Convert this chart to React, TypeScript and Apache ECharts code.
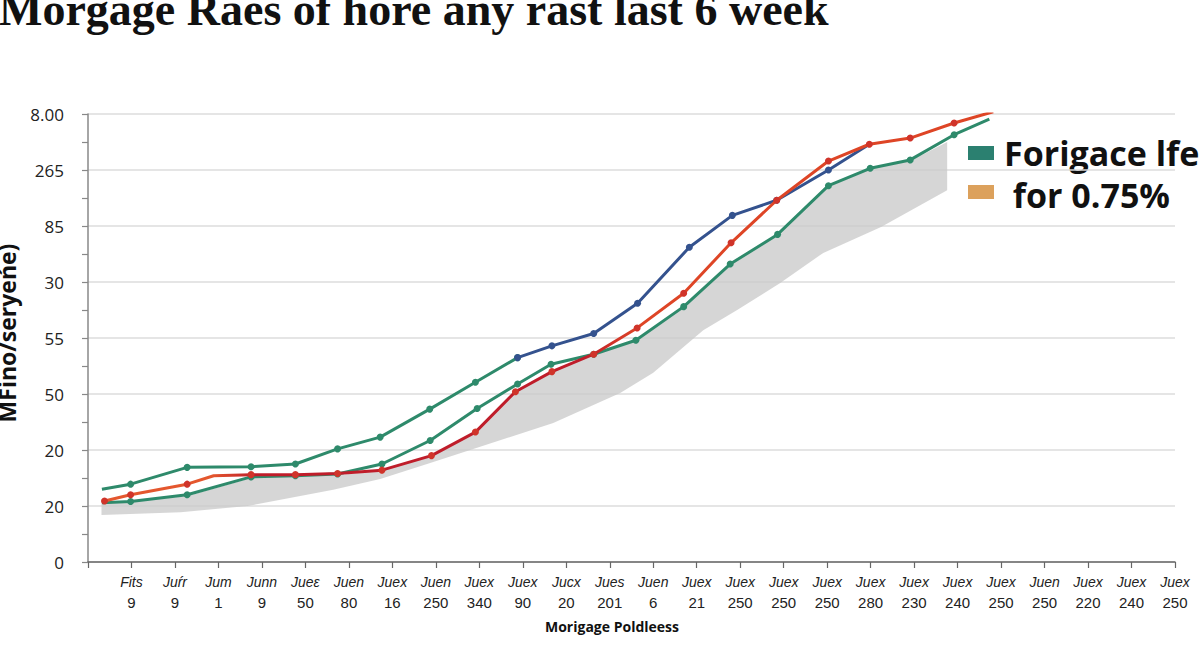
import React, { useEffect, useRef } from 'react';
import * as echarts from 'echarts';

const TITLE = 'Morgage Raes of hore any rast last 6 week';
const Y_NAME = 'MFino/seryeńe)';
const X_NAME = 'Morigage Poldleess';

// y axis: 9 evenly spaced tick labels (index 0..8)
const Y_LABELS = ['0', '20', '20', '50', '55', '30', '85', '265', '8.00'];

// x axis: 25 two-line labels (index 0..24)
const X_TOP = [
  'Fits', 'Juŕr', 'Jum', 'Junn', 'Jueε', 'Juen', 'Juex', 'Juen', 'Juex', 'Juex',
  'Jucx', 'Jues', 'Juen', 'Juex', 'Juex', 'Juex', 'Juex', 'Juex', 'Juex', 'Juex',
  'Juex', 'Juen', 'Juex', 'Juex', 'Juex',
];
const X_BOTTOM = [
  '9', '9', '1', '9', '50', '80', '16', '250', '340', '90',
  '20', '201', '6', '21', '250', '250', '250', '280', '230', '240',
  '250', '250', '220', '240', '250',
];

// green upper line
const GREEN_UP_X = [-0.68, -0.02, 1.28, 2.75, 3.77, 4.74, 5.72, 6.86, 7.91, 8.88];
const GREEN_UP_Y = [1.3, 1.39, 1.69, 1.7, 1.75, 2.02, 2.23, 2.73, 3.21, 3.65];

// blue line (continues the upper one)
const BLUE_X = [8.88, 9.67, 10.63, 11.64, 12.83, 13.82, 14.84, 16.03, 16.97];
const BLUE_Y = [3.65, 3.86, 4.08, 4.62, 5.62, 6.19, 6.46, 7.0, 7.46];

// red line
const RED_X = [-0.62, -0.02, 1.28, 1.89, 2.75, 3.77, 4.74, 5.76, 6.9, 7.91, 8.83, 9.67, 10.63, 11.63, 12.7, 13.79, 14.84, 16.03, 16.97, 17.91, 18.92, 19.82];
const RED_Y = [1.09, 1.2, 1.39, 1.54, 1.56, 1.56, 1.58, 1.64, 1.9, 2.32, 3.04, 3.4, 3.71, 4.18, 4.8, 5.7, 6.46, 7.16, 7.46, 7.57, 7.84, 8.04];

// green lower line
const GREEN_LO_X = [-0.68, -0.02, 1.28, 2.75, 3.77, 4.74, 5.76, 6.87, 7.95, 8.88, 9.65, 10.63, 11.6, 12.7, 13.77, 14.86, 16.03, 16.99, 17.91, 18.92, 19.73];
const GREEN_LO_Y = [1.06, 1.08, 1.2, 1.52, 1.54, 1.57, 1.75, 2.17, 2.74, 3.18, 3.53, 3.71, 3.96, 4.56, 5.32, 5.85, 6.72, 7.03, 7.18, 7.63, 7.91];

// grey band
const BAND_TOP_X = [-0.69, -0.02, 1.29, 2.76, 3.77, 4.74, 5.75, 6.87, 7.91, 8.83, 9.66, 10.62, 11.61, 12.69, 13.77, 14.85, 16.02, 16.99, 17.91, 18.76];
const BAND_TOP_Y = [1.05, 1.07, 1.18, 1.5, 1.54, 1.55, 1.64, 1.89, 2.32, 3.04, 3.39, 3.7, 3.95, 4.55, 5.3, 5.84, 6.7, 7.02, 7.16, 7.5];
const BAND_BOT_X = [-0.69, 1.13, 2.67, 4.64, 5.72, 6.87, 7.79, 9.7, 11.24, 12.0, 13.15, 13.93, 14.92, 15.91, 17.24, 18.76];
const BAND_BOT_Y = [0.84, 0.89, 1.0, 1.29, 1.48, 1.77, 2.0, 2.48, 3.02, 3.38, 4.14, 4.5, 4.98, 5.52, 5.98, 6.64];

const LEGEND = [
  { label: 'Forigace lfe', color: '#2b8070' },
  { label: ' for 0.75%', color: '#dca15c' },
];

const GREEN = '#2e8a6b';
const BLUE = '#34528e';
const RED = '#d0342a';

function toPoints(xs: number[], ys: number[], hidden: number[] = []) {
  return xs.map((x, i) =>
    hidden.includes(i) ? { value: [x, ys[i]], symbol: 'none' } : [x, ys[i]],
  );
}

function lineSeries(name: string, data: any[], color: any, markerColor: string, z: number) {
  return {
    name,
    type: 'line' as const,
    data,
    z,
    symbol: 'circle',
    symbolSize: 7,
    lineStyle: { width: 3, color },
    itemStyle: { color: markerColor },
  };
}

export default function App() {
  const ref = useRef<HTMLDivElement>(null);

  useEffect(() => {
    if (!ref.current) return;
    const chart = echarts.init(ref.current, undefined, { renderer: 'svg' });

    const redGradient = new echarts.graphic.LinearGradient(0, 0, 1, 0, [
      { offset: 0, color: '#e4572e' },
      { offset: 0.12, color: '#e4572e' },
      { offset: 0.17, color: '#bf1d2a' },
      { offset: 0.54, color: '#bf1d2a' },
      { offset: 0.6, color: '#de4526' },
      { offset: 1, color: '#de4526' },
    ]);

    const option: echarts.EChartsOption = {
      animation: false,
      backgroundColor: '#ffffff',
      grid: { left: 88, right: 25, top: 114, bottom: 92 },
      xAxis: {
        type: 'value',
        min: -1,
        max: 24,
        interval: 1,
        axisLine: { onZero: false, lineStyle: { color: '#666', width: 1.5 } },
        axisTick: { show: true, length: 6, lineStyle: { color: '#666', width: 1.2 } },
        splitLine: { show: false },
        axisLabel: {
          margin: 10,
          showMinLabel: true,
          showMaxLabel: true,
          formatter: (v: number) => {
            if (v < 0) return '';
            const i = Math.round(v);
            return `{a|${X_TOP[i]}}\n{b|${X_BOTTOM[i]}}`;
          },
          rich: {
            a: { fontFamily: 'Liberation Sans', fontStyle: 'italic', fontSize: 14, color: '#222', lineHeight: 20 },
            b: { fontFamily: 'Liberation Sans', fontSize: 15, color: '#222', lineHeight: 20 },
          },
        },
      },
      yAxis: {
        type: 'value',
        min: 0,
        max: 8,
        interval: 1,
        axisLine: { show: true, onZero: false, lineStyle: { color: '#888', width: 1.5 } },
        axisTick: { show: true, length: 6, lineStyle: { color: '#888', width: 1.2 } },
        minorTick: { show: true, splitNumber: 2, length: 6, lineStyle: { color: '#888', width: 1.2 } },
        splitLine: { show: true, lineStyle: { color: '#dcdcdc', width: 1.5 } },
        axisLabel: {
          margin: 24,
          fontFamily: 'Open Sans',
          fontSize: 17,
          color: '#222',
          formatter: (v: number) => Y_LABELS[Math.round(v)] ?? '',
        },
      },
      series: [
        {
          type: 'custom',
          z: 1,
          silent: true,
          data: [[0, 0]],
          renderItem: (_params: any, api: any) => {
            const top = BAND_TOP_X.map((x, i) => api.coord([x, BAND_TOP_Y[i]]));
            const bot = BAND_BOT_X.map((x, i) => api.coord([x, BAND_BOT_Y[i]])).reverse();
            return {
              type: 'polygon',
              shape: { points: [...top, ...bot] },
              style: { fill: 'rgba(200,200,200,0.75)' },
            };
          },
        } as any,
        lineSeries('lower', toPoints(GREEN_LO_X, GREEN_LO_Y, [0, GREEN_LO_X.length - 1]), GREEN, GREEN, 3),
        lineSeries('upper', toPoints(GREEN_UP_X, GREEN_UP_Y, [0]), GREEN, GREEN, 4),
        lineSeries('blue', toPoints(BLUE_X, BLUE_Y, [BLUE_X.length - 1]), BLUE, BLUE, 5),
        lineSeries('red', toPoints(RED_X, RED_Y, [3]), redGradient, RED, 6),
      ],
      graphic: [
        {
          type: 'text',
          x: -1,
          y: 32,
          style: {
            text: TITLE,
            font: 'bold 46px "Liberation Serif"',
            fill: '#111',
            verticalAlign: 'bottom',
          },
        },
        {
          type: 'text',
          x: 7,
          y: 333,
          rotation: Math.PI / 2,
          style: {
            text: Y_NAME,
            font: 'bold 23px "Open Sans"',
            fill: '#111',
            align: 'center',
            verticalAlign: 'middle',
          },
        },
        {
          type: 'text',
          x: 612,
          y: 626,
          style: {
            text: X_NAME,
            font: 'bold 14px "Open Sans"',
            fill: '#111',
            align: 'center',
            verticalAlign: 'middle',
          },
        },
        ...LEGEND.flatMap((item, i) => [
          {
            type: 'rect',
            shape: { x: 968, y: 146 + i * 39, width: 26, height: 14 },
            style: { fill: item.color },
          },
          {
            type: 'text',
            x: 1004,
            y: 153 + i * 42,
            style: {
              text: item.label,
              font: 'bold 34px "Open Sans"',
              fill: '#111',
              verticalAlign: 'middle',
            },
          },
        ]),
      ] as any,
    };

    chart.setOption(option);
    return () => chart.dispose();
  }, []);

  return (
    <div
      ref={ref}
      style={{ position: 'fixed', left: 0, top: 0, width: 1200, height: 654, background: '#fff' }}
    />
  );
}
